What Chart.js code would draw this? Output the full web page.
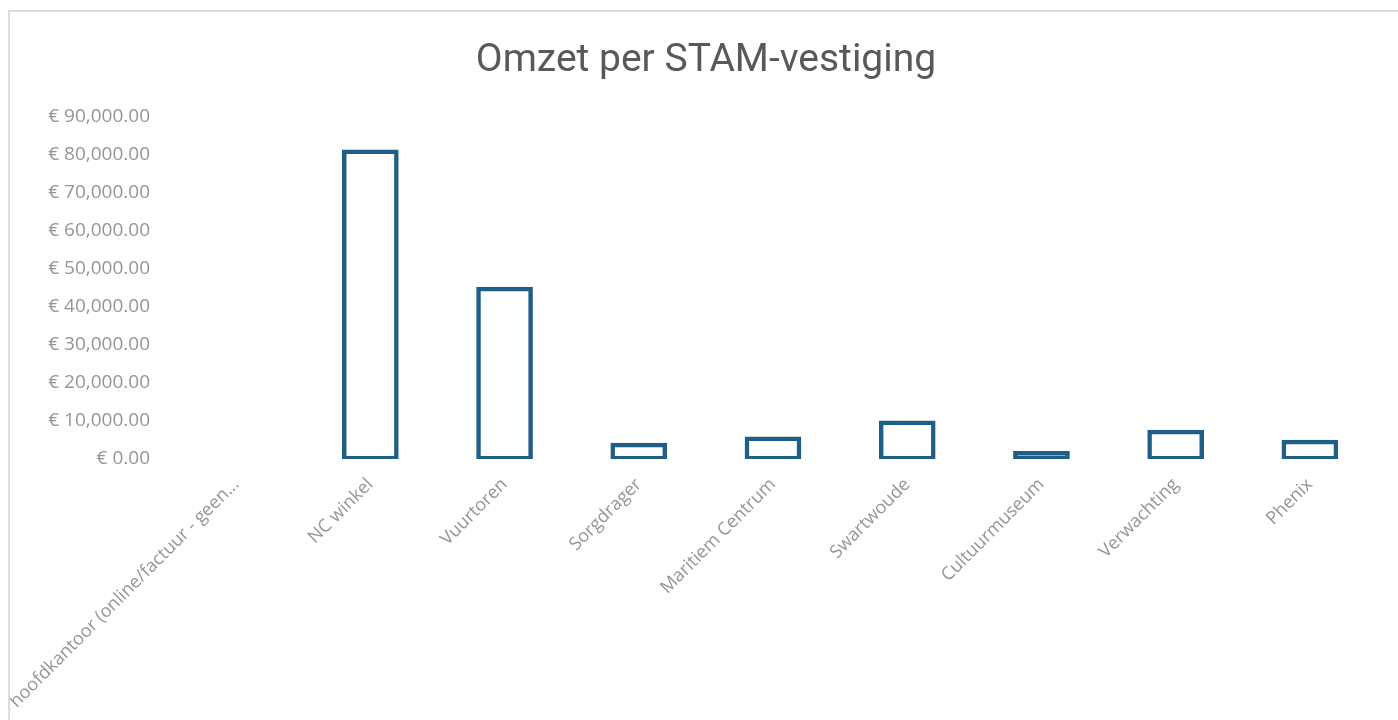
<!DOCTYPE html>
<html>
<head>
<meta charset="utf-8">
<script src="https://cdn.jsdelivr.net/npm/chart.js@4/dist/chart.umd.min.js"></script>
<style>
    html, body { margin: 0; padding: 0; background: #fff; overflow: hidden; }
    #frame {
        position: absolute;
        left: 8px;
        top: 10px;
        width: 1392px;
        height: 710px;
        border-left: 2px solid #dcdcdc;
        border-top: 2px solid #dcdcdc;
    }
    #chart-box { position: relative; width: 1392px; height: 708px; }
</style>
</head>
<body>
<div id="frame">
    <div id="chart-box"><canvas id="omzetChart"></canvas></div>
</div>
<script>
// Vestigingen en omzet
const vestigingen = [
    'hoofdkantoor (online/factuur - geen...',
    'NC winkel',
    'Vuurtoren',
    'Sorgdrager',
    'Maritiem Centrum',
    'Swartwoude',
    'Cultuurmuseum',
    'Verwachting',
    'Phenix'
];
const omzet = [0, 81000, 44900, 3900, 5500, 9700, 1700, 7300, 4700];
const yTicks = [0, 10000, 20000, 30000, 40000, 50000, 60000, 70000, 80000, 90000];

const tekstKleur = '#959595';
const balkKleur = '#1f5f87';

function formatEuro(v) {
    return '€ ' + Number(v).toLocaleString('en-US', { minimumFractionDigits: 2, maximumFractionDigits: 2 });
}

const ctx = document.getElementById('omzetChart').getContext('2d');
new Chart(ctx, {
    type: 'bar',
    data: {
        labels: vestigingen,
        datasets: [{
            data: omzet,
            backgroundColor: 'rgba(255,255,255,0)',
            borderColor: balkKleur,
            // rand van 3px, gecentreerd op de balkrand (zoals in Excel)
            borderWidth: 1.5,
            inflateAmount: 1.5,
            borderSkipped: false,
            categoryPercentage: 1,
            barPercentage: 0.4
        }]
    },
    options: {
        responsive: true,
        maintainAspectRatio: false,
        animation: false,
        layout: { padding: 0 },
        plugins: {
            legend: { display: false },
            tooltip: { enabled: false },
            title: {
                display: true,
                text: 'Omzet per STAM-vestiging',
                color: '#595959',
                font: { family: 'Roboto', size: 39, weight: 'normal' },
                padding: { top: 26, bottom: 32 }
            }
        },
        scales: {
            x: {
                grid: { display: false, drawTicks: false },
                border: { display: false },
                ticks: {
                    color: tekstKleur,
                    font: { family: 'Open Sans', size: 18 },
                    minRotation: 45,
                    maxRotation: 45,
                    autoSkip: false,
                    padding: 15
                },
                afterFit: (scale) => {
                    scale.height = 261;
                    scale.paddingLeft = 0;
                    scale.paddingRight = 0;
                }
            },
            y: {
                min: 0,
                max: 90000,
                afterBuildTicks: (scale) => {
                    scale.ticks = yTicks.map(v => ({ value: v }));
                },
                grid: { display: false, drawTicks: false },
                border: { display: false },
                ticks: {
                    color: tekstKleur,
                    font: { family: 'Open Sans', size: 19 },
                    padding: 19,
                    callback: (v) => formatEuro(v)
                },
                afterFit: (scale) => { scale.width = 159; }
            },
            // lege ruimte rechts, zodat de titel over de hele breedte gecentreerd blijft
            rechts: {
                type: 'linear',
                position: 'right',
                display: true,
                grid: { display: false, drawTicks: false },
                border: { display: false },
                ticks: { display: false },
                afterFit: (scale) => { scale.width = 25; }
            }
        }
    }
});
</script>
</body>
</html>
